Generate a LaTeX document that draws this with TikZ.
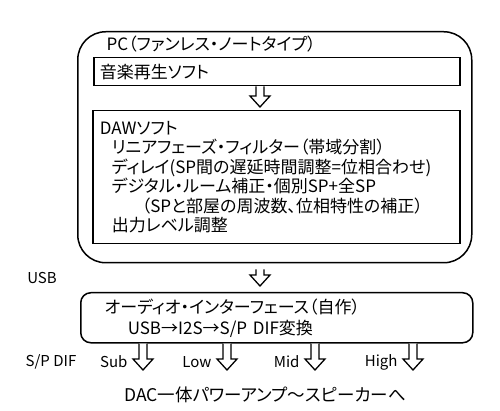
\documentclass[tikz,border=0pt]{standalone}
\usepackage{fontspec}
\setmainfont{Noto Sans CJK JP}[RawFeature=+palt]
\usetikzlibrary{positioning,calc}

\tikzset{
  box/.style={draw, line width=1.5pt, inner sep=0pt, anchor=north west, align=left},
  main text/.style={font=\fontsize{17}{19.5}\selectfont},
  small text/.style={font=\fontsize{15}{17}\selectfont},
  hollow arrow/.style={draw, line width=1.3pt, fill=white, line join=miter},
}
% hollow block arrow from #1 (top of shaft) down to #2 (tip)
\newcommand{\hollowarrow}[2]{%
  \draw[hollow arrow] let \p1=#1, \p2=#2 in
    (\x1-4pt,\y1) -- (\x1-4pt,\y2+11pt) -- (\x1-10pt,\y2+11pt) -- (\x1,\y2)
    -- (\x1+10pt,\y2+11pt) -- (\x1+4pt,\y2+11pt) -- (\x1+4pt,\y1);
}

\begin{document}
\begin{tikzpicture}[x=1pt, y=-1pt]
    \useasboundingbox (0,0) rectangle (500,411);

    % PC box
    \node[box, rounded corners=28pt, minimum width=394pt, minimum height=231pt] (pc) at (77,31) {};
    \node[main text, anchor=west] (pclabel) at (103,44) {PC（ファンレス・ノートタイプ）};

    % player software
    \node[box, main text, inner xsep=6pt, text width=354pt, minimum height=28pt] (play) at (93,57) {音楽再生ソフト};

    % DAW software
    \node[box, main text, inner xsep=7pt, text width=353pt, minimum height=133pt] (daw) at (92,110) {%
      DAWソフト\\
      \hspace*{12pt}リニアフェーズ・フィルター（帯域分割）\\
      \hspace*{12pt}ディレイ(SP間の遅延時間調整=位相合わせ)\\
      \hspace*{12pt}デジタル・ルーム補正・個別SP+全SP\\
      \hspace*{42pt}（SPと部屋の周波数、位相特性の補正）\\
      \hspace*{12pt}出力レベル調整};

    % audio interface
    \node[box, main text, rounded corners=10pt, inner xsep=24pt, text width=344pt, minimum height=50pt,
          font=\fontsize{17}{21}\selectfont] (audio) at (80,292) {%
      オーディオ・インターフェース（自作）\\
      \hspace*{23pt}USB→I2S→S/P DIF変換};

    % flow between the boxes
    \coordinate (flow) at (260,0);
    \hollowarrow{(play.south -| flow)}{($(daw.north -| flow)+(0,-3)$)}
    \hollowarrow{($(pc.south -| flow)+(0,6)$)}{($(audio.north -| flow)+(0,-6)$)}
    \node[small text] (usb) at (42,278) {USB};

    % S/P DIF outputs
    \node[small text] (spdif) at (51,362) {S/P DIF};
    \foreach \name/\x in {Sub/143, Low/227, Mid/315, High/413} {
      \coordinate (\name tip) at (\x,370);
      \hollowarrow{(audio.south -| \name tip)}{(\name tip)}
      \node[small text, anchor=east] (\name) at ($(\name tip)+(-12,-8)$) {\name};
    }

    \node[font=\fontsize{17.5}{20}\selectfont] (amp) at (265,395) {DAC一体パワーアンプ～スピーカーへ};
\end{tikzpicture}
\end{document}
